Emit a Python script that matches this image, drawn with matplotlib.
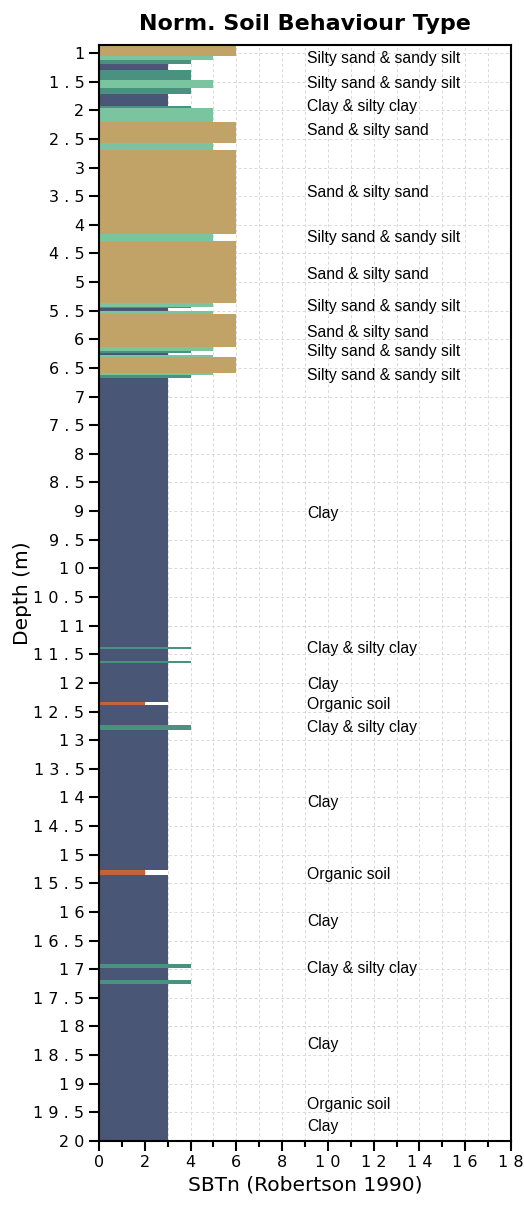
import numpy as np
import matplotlib
matplotlib.use("Agg")
import matplotlib.pyplot as plt
from matplotlib.ticker import MultipleLocator, FixedLocator

# ---- data ----
layer_top = [0.86, 1.047, 1.122, 1.192, 1.297, 1.472, 1.617, 1.717, 1.921, 1.967,
             2.201, 2.579, 2.696, 4.152, 4.287, 5.365, 5.435, 5.452, 5.505, 5.55,
             6.134, 6.210, 6.233, 6.268, 6.310, 6.589, 6.629, 6.670,
             11.38, 11.41, 11.62, 11.65, 12.34, 12.38, 12.74, 12.82,
             15.27, 15.35, 16.91, 16.98, 17.19, 17.25]
layer_sbt = [6, 5, 4, 3, 4, 5, 4, 3, 4, 5,
             6, 5, 6, 5, 6, 5, 4, 3, 5, 6,
             5, 4, 3, 5, 6, 5, 4, 3,
             4, 3, 4, 3, 2, 3, 4, 3,
             2, 3, 4, 3, 4, 3]
max_depth = 20.0

label_depths = [1.09, 1.54, 1.94, 2.36, 3.43, 4.23, 4.86, 5.42, 5.88, 6.21, 6.63,
                9.04, 11.40, 12.03, 12.38, 12.78, 14.09, 15.34, 16.16, 16.98,
                18.31, 19.36, 19.74]
label_texts = ["Silty sand & sandy silt", "Silty sand & sandy silt", "Clay & silty clay",
               "Sand & silty sand", "Sand & silty sand", "Silty sand & sandy silt",
               "Sand & silty sand", "Silty sand & sandy silt", "Sand & silty sand",
               "Silty sand & sandy silt", "Silty sand & sandy silt", "Clay",
               "Clay & silty clay", "Clay", "Organic soil", "Clay & silty clay", "Clay",
               "Organic soil", "Clay", "Clay & silty clay", "Clay", "Organic soil", "Clay"]
label_x = 9.1

sbt_colors = {2: "#C46238", 3: "#4A5675", 4: "#4A9180", 5: "#7AC4A0", 6: "#C1A367"}

x_ticks = list(range(0, 19, 2))
y_ticks = list(np.arange(1.0, 20.01, 0.5))

# ---- figure ----
fig = plt.figure(figsize=(5.24, 12.05), dpi=100)
ax = fig.add_axes([99/524, 1 - 1141/1205, (511-99)/524, (1141-45)/1205])

tops = np.array(layer_top)
bottoms = np.append(tops[1:], max_depth)
for t, b, v in zip(tops, bottoms, layer_sbt):
    ax.barh((t + b) / 2, v, height=(b - t), left=0, color=sbt_colors[v],
            edgecolor="none", zorder=2)

txt_fam = ["Liberation Sans Narrow", "Liberation Sans", "DejaVu Sans"]
for d, s in zip(label_depths, label_texts):
    ax.text(label_x, d, s, ha="left", va="center", fontsize=11.3,
            family=txt_fam, color="black", zorder=3)

ax.set_xlim(0, 18)
ax.set_ylim(max_depth, 0.86)

def spaced(s):
    return " ".join(list(s))

ax.xaxis.set_major_locator(FixedLocator(x_ticks))
ax.xaxis.set_minor_locator(MultipleLocator(1))
ax.set_xticklabels([spaced(str(v)) for v in x_ticks])
ax.yaxis.set_major_locator(FixedLocator(y_ticks))
ax.set_yticklabels([spaced(("%g" % v)) for v in y_ticks])

ax.tick_params(axis="both", which="major", direction="out", length=7, width=1.5,
               labelsize=11.5, color="black")
ax.tick_params(axis="x", which="minor", direction="out", length=4.5, width=1.5)
ax.tick_params(axis="x", pad=3)

ax.grid(True, which="both", axis="x", color="#d9d9d9", linestyle=(0, (3, 2.5)), linewidth=0.7, zorder=0)
ax.grid(True, which="major", axis="y", color="#d9d9d9", linestyle=(0, (3, 2.5)), linewidth=0.7, zorder=0)
ax.set_axisbelow(True)

for sp in ax.spines.values():
    sp.set_linewidth(1.5)
    sp.set_color("black")

ax.set_xlabel("SBTn (Robertson 1990)", fontsize=14.5, labelpad=4)
ax.set_ylabel("Depth (m)", fontsize=14.5, labelpad=1)
ax.set_title("Norm. Soil Behaviour Type", fontsize=16, fontweight="bold", pad=11)

fig.savefig("out.png", dpi=100)
